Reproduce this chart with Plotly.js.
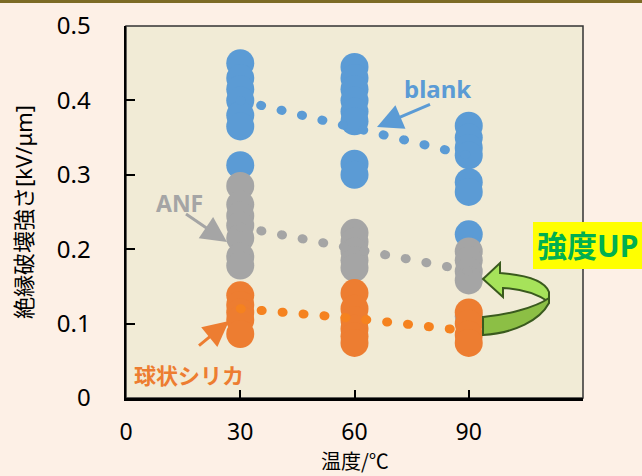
<!DOCTYPE html>
<html>
<head>
<meta charset="utf-8">
<script src="https://cdn.plot.ly/plotly-3.0.1.min.js"></script>
<style>
  html, body { margin: 0; padding: 0; background: #FDF0E6; }
  #wrap { position: relative; width: 642px; height: 476px; overflow: hidden; }
  #chart { width: 642px; height: 476px; }
  #topline { position: absolute; left: 0; top: 0; width: 642px; height: 3px; background: #7C6B25; }
  .js-line { stroke-linecap: round !important; }
</style>
</head>
<body>
<div id="wrap"><div id="chart"></div><div id="topline"></div></div>
<script>
// ---- data ----
const temps = [30, 60, 90];
const xTickVals = [0, 30, 60, 90];
const xTickText = ['0', '30', '60', '90'];
const yTickVals = [0, 0.1, 0.2, 0.3, 0.4, 0.5];
const yTickText = ['0', '0.1', '0.2', '0.3', '0.4', '0.5'];
const xTitle = '温度/℃';
const yTitle = '絶縁破壊強さ[kV/μm]';

const blank30 = [0.45, 0.43, 0.415, 0.40, 0.38, 0.365, 0.313];
const blank60 = [0.445, 0.43, 0.415, 0.40, 0.385, 0.372, 0.315, 0.30];
const blank90 = [0.366, 0.35, 0.336, 0.326, 0.29, 0.277, 0.22];
const anf30 = [0.285, 0.26, 0.245, 0.232, 0.215, 0.19, 0.178];
const anf60 = [0.222, 0.21, 0.197, 0.185, 0.175];
const anf90 = [0.197, 0.185, 0.17, 0.158, 0.11];
const silica30 = [0.138, 0.125, 0.115, 0.105, 0.086];
const silica60 = [0.141, 0.12, 0.105, 0.093, 0.083, 0.074];
const silica90 = [0.115, 0.1, 0.085, 0.074];

const blankMean = [0.40, 0.363, 0.326];
const anfMean = [0.23, 0.202, 0.171];
const silicaMean = [0.12, 0.107, 0.09];

// ---- styling ----
const C_BLUE = '#5B9BD5', C_GRAY = '#A5A5A5', C_ORANGE = '#ED7D31', C_ORANGE_LINE = '#F5821F';
const FONT = 'Noto Sans, Noto Sans CJK JP, sans-serif';
const M = {l: 126, r: 59, t: 26, b: 78};
const PW = 642 - M.l - M.r, PH = 476 - M.t - M.b;

function scatterSet(groups, color) {
  const xs = [], ys = [];
  groups.forEach((g, i) => { g.forEach(v => { xs.push(temps[i]); ys.push(v); }); });
  return {x: xs, y: ys, type: 'scatter', mode: 'markers', hoverinfo: 'skip',
          marker: {size: 28, color: color, line: {width: 0}}, showlegend: false};
}
function meanLine(vals, color) {
  return {x: temps, y: vals, type: 'scatter', mode: 'lines', hoverinfo: 'skip', showlegend: false,
          line: {color: color, width: 9, dash: '1px,20px'}};
}

const traces = [
  scatterSet([blank30, blank60, blank90], C_BLUE),
  scatterSet([anf30, anf60, anf90], C_GRAY),
  scatterSet([silica30, silica60, silica90], C_ORANGE),
  meanLine(blankMean, C_BLUE),
  meanLine(anfMean, C_GRAY),
  meanLine(silicaMean, C_ORANGE_LINE)
];

// decoration helper: pixel -> paper path
function P(px, py) { return ((px - M.l) / PW).toFixed(4) + ',' + ((M.t + PH - py) / PH).toFixed(4); }

const upperPath = 'M' + P(483,279) + ' L' + P(500,263) + ' L' + P(500,273) +
  ' C' + P(527,275) + ' ' + P(545,281) + ' ' + P(549,292) + ' L' + P(549,302) +
  ' C' + P(540,296) + ' ' + P(525,289) + ' ' + P(503,288) + ' L' + P(503,297) + ' Z';
const lowerPath = 'M' + P(483,317) + ' C' + P(505,315) + ' ' + P(535,308) + ' ' + P(549,298) +
  ' L' + P(549,303) + ' C' + P(540,320) + ' ' + P(515,333) + ' ' + P(483,335) + ' Z';

function pxX(px) { return (px - M.l) / PW * 120; }
function pxY(py) { return (M.t + PH - py) / PH * 0.5; }

const arrowCommon = {text: ' ', showarrow: true, arrowhead: 2, arrowwidth: 3, arrowsize: 1.7, axref: 'pixel', ayref: 'pixel', standoff: 0};

const layout = {
  width: 642, height: 476,
  margin: M,
  paper_bgcolor: '#FDF0E6',
  plot_bgcolor: '#F1EBD6',
  font: {family: FONT, color: '#000'},
  xaxis: {
    range: [0, 120], tickvals: xTickVals, ticktext: xTickText,
    ticks: 'inside', ticklen: 8, tickwidth: 2, tickcolor: '#000',
    showline: true, linecolor: '#000', linewidth: 2.5, showgrid: false, zeroline: false,
    tickfont: {size: 23, family: FONT}, ticklabelstandoff: 12
  },
  yaxis: {
    range: [0, 0.5], tickvals: yTickVals, ticktext: yTickText,
    ticks: 'inside', ticklen: 9, tickwidth: 2, tickcolor: '#000',
    showline: true, linecolor: '#000', linewidth: 2.5, showgrid: false, zeroline: false,
    tickfont: {size: 24, family: FONT}, ticklabelstandoff: 28,
    title: {text: yTitle, font: {size: 22, family: FONT}, standoff: 18}
  },
  shapes: [
    {type: 'rect', xref: 'paper', yref: 'paper', x0: 0, x1: 1, y0: 0, y1: 1, layer: 'below',
     line: {color: '#333', width: 1.5}},
    {type: 'rect', xref: 'paper', yref: 'paper', x0: (533 - M.l) / PW, x1: (660 - M.l) / PW,
     y0: (M.t + PH - 269) / PH, y1: (M.t + PH - 222) / PH, fillcolor: '#FFFF00', line: {width: 0}, layer: 'above'},
    {type: 'path', xref: 'paper', yref: 'paper', path: upperPath, fillcolor: '#A6E35A',
     line: {color: '#3A5A1E', width: 2}, layer: 'above'},
    {type: 'path', xref: 'paper', yref: 'paper', path: lowerPath, fillcolor: '#8CBF45',
     line: {color: '#3A5A1E', width: 2}, layer: 'above'}
  ],
  annotations: [
    Object.assign({x: pxX(377), y: pxY(127), ax: 56, ay: -24, arrowcolor: C_BLUE}, arrowCommon),
    Object.assign({x: pxX(227), y: pxY(242), ax: -44, ay: -30, arrowcolor: C_GRAY}, arrowCommon),
    Object.assign({x: pxX(229), y: pxY(321), ax: -33, ay: 27, arrowcolor: C_ORANGE}, arrowCommon),
    {x: pxX(437), y: pxY(88), text: '<b>blank</b>', showarrow: false, font: {size: 24, color: C_BLUE, family: FONT}},
    {x: pxX(179), y: pxY(203), text: '<b>ANF</b>', showarrow: false, font: {size: 23, color: C_GRAY, family: FONT}},
    {x: pxX(189), y: pxY(375), text: '<b>球状シリカ</b>', showarrow: false, font: {size: 22, color: C_ORANGE, family: FONT}},
    {xref: 'paper', yref: 'paper', x: (535 - M.l) / PW, y: (M.t + PH - 246) / PH, xanchor: 'left', yanchor: 'middle',
     text: '<b>強度UP</b>', showarrow: false, font: {size: 30, color: '#00B050', family: FONT}},
    {xref: 'paper', yref: 'paper', x: 0.5, y: (M.t + PH - 460) / PH, xanchor: 'center', yanchor: 'middle',
     borderpad: 0, text: xTitle, showarrow: false, font: {size: 20, color: '#000', family: 'Noto Sans CJK JP, sans-serif'}}
  ]
};

Plotly.newPlot('chart', traces, layout, {displayModeBar: false, staticPlot: true});
</script>
</body>
</html>
